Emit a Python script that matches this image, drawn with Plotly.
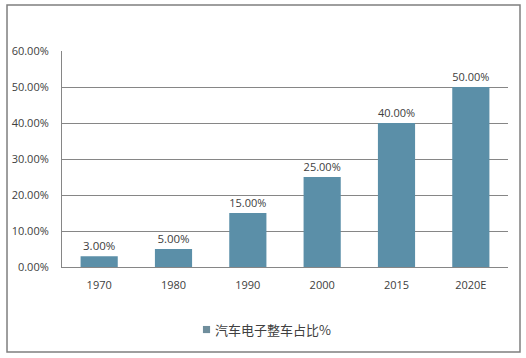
import plotly.graph_objects as go

categories = ["1970", "1980", "1990", "2000", "2015", "2020E"]
values = [0.03, 0.05, 0.15, 0.25, 0.40, 0.50]
series_name = "汽车电子整车占比%"
y_ticks = [0, 0.1, 0.2, 0.3, 0.4, 0.5, 0.6]

bar_color = "#5b8fa8"
text_color = "#404040"
font_family = "Open Sans, Noto Sans CJK SC, sans-serif"

fig = go.Figure()
fig.add_trace(go.Bar(
    x=categories, y=values, name=series_name,
    marker=dict(color=bar_color, line=dict(width=0)),
    text=[f"{v*100:.2f}%" for v in values],
    textposition="outside", cliponaxis=False,
    textfont=dict(size=11.5, color=text_color, family=font_family),
    showlegend=False,
))

# manual legend: swatch + label
fig.add_shape(type="rect", xref="paper", yref="paper",
              x0=0.316, x1=0.332, y0=-0.306, y1=-0.273,
              line=dict(width=0), fillcolor="#6f8e9c")
fig.add_annotation(text=series_name, xref="paper", yref="paper",
                   x=0.338, y=-0.289, xanchor="left", yanchor="middle",
                   showarrow=False, font=dict(size=13, color=text_color,
                                              family="Noto Sans CJK SC, sans-serif"))

fig.update_layout(
    width=526, height=358,
    margin=dict(l=62, r=18, t=51, b=91),
    paper_bgcolor="white", plot_bgcolor="white",
    bargap=0.5,
    font=dict(family=font_family, size=11, color=text_color),
    xaxis=dict(showgrid=False, showline=True, linecolor="#868686", linewidth=1,
               ticks="", tickfont=dict(size=11, color=text_color), ticklabelstandoff=8),
    yaxis=dict(range=[0, 0.6], tickvals=y_ticks, tickformat=".2%",
               showgrid=True, gridcolor="#868686", gridwidth=1,
               showline=True, linecolor="#868686", linewidth=1,
               zeroline=False, ticks="", tickfont=dict(size=11, color=text_color),
               ticklabelstandoff=10),
)
fig.add_shape(type="rect", xref="paper", yref="paper",
              x0=-0.1233, x1=1.0269, y0=-0.3935, y1=1.213,
              line=dict(color="#7f7f7f", width=1.5), fillcolor="rgba(0,0,0,0)")

fig.write_html("out.html")
